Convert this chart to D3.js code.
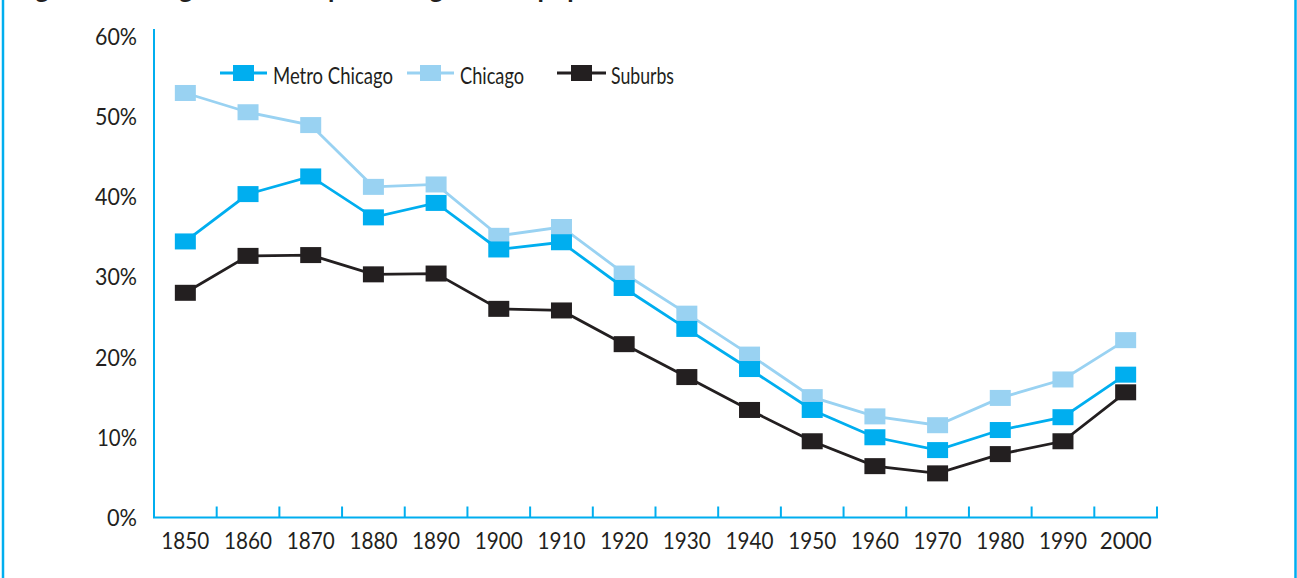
<!DOCTYPE html>
<html>
<head>
<meta charset="utf-8">
<script src="https://cdn.jsdelivr.net/npm/d3@7"></script>
<style>
  html, body { margin: 0; padding: 0; background: #fff; }
  svg { display: block; }
  text { font-family: Lato, "Open Sans", sans-serif; fill: #231F20; }
</style>
</head>
<body>
<svg id="chart" width="1297" height="578"></svg>
<script>
const years = ["1850","1860","1870","1880","1890","1900","1910","1920","1930","1940","1950","1960","1970","1980","1990","2000"];
const metroChicago = [34.4, 40.3, 42.5, 37.4, 39.2, 33.4, 34.3, 28.6, 23.5, 18.5, 13.4, 10.0, 8.4, 10.9, 12.5, 17.8];
const chicago      = [52.9, 50.5, 48.9, 41.2, 41.5, 35.1, 36.2, 30.4, 25.4, 20.3, 15.0, 12.6, 11.5, 14.9, 17.2, 22.1];
const suburbs      = [28.0, 32.6, 32.7, 30.3, 30.4, 26.0, 25.8, 21.6, 17.5, 13.4, 9.5, 6.4, 5.5, 7.9, 9.5, 15.6];
const yTicks = [0, 10, 20, 30, 40, 50, 60];
const seriesNames = ["Metro Chicago", "Chicago", "Suburbs"];
const titleText = "Figure 1. Foreign-born as a percentage of the population";

const colors = { "Metro Chicago": "#00AEEF", "Chicago": "#99D2F2", "Suburbs": "#231F20" };
const axisColor = "#00AEEF";
const fs = 24;

const svg = d3.select("#chart");

// frame lines
svg.append("line").attr("x1", 3).attr("x2", 3).attr("y1", 0).attr("y2", 578)
  .attr("stroke", axisColor).attr("stroke-width", 2.5);
svg.append("line").attr("x1", 1295.5).attr("x2", 1295.5).attr("y1", 0).attr("y2", 578)
  .attr("stroke", axisColor).attr("stroke-width", 2.5);

// clipped title (only descenders visible, as in the reference)
svg.append("text").attr("x", 14).attr("y", -2.5)
  .attr("font-size", 26).attr("font-weight", "bold").text(titleText);

const x = d3.scaleBand().domain(years).range([154, 1157]);
const y = d3.scaleLinear().domain([0, 60]).range([517.5, 36]);

// y axis line
svg.append("line").attr("x1", 154).attr("x2", 154).attr("y1", 29).attr("y2", y(0))
  .attr("stroke", axisColor).attr("stroke-width", 2);

// y labels
svg.selectAll(".ylab").data(yTicks).join("text")
  .attr("class", "ylab")
  .attr("x", 137).attr("y", d => y(d))
  .attr("dy", "0.36em")
  .attr("text-anchor", "end")
  .attr("font-size", fs)
  .attr("textLength", d => d === 0 ? 30 : (d === 10 ? 40 : 42))
  .attr("lengthAdjust", "spacingAndGlyphs")
  .text(d => d + "%");

// x axis
const xEnd = x.range()[1];
svg.append("line").attr("x1", 153).attr("x2", xEnd + 1).attr("y1", y(0)).attr("y2", y(0))
  .attr("stroke", axisColor).attr("stroke-width", 2);
const boundaries = years.slice(1).map(d => x(d)).concat([xEnd]);
svg.selectAll(".xtick").data(boundaries).join("line")
  .attr("class", "xtick")
  .attr("x1", d => d).attr("x2", d => d)
  .attr("y1", y(0)).attr("y2", y(0) - 11)
  .attr("stroke", axisColor).attr("stroke-width", 2);

svg.selectAll(".xlab").data(years).join("text")
  .attr("class", "xlab")
  .attr("x", d => x(d) + x.bandwidth() / 2)
  .attr("y", 549)
  .attr("text-anchor", "middle")
  .attr("font-size", fs)
  .attr("textLength", d => d === "2000" ? 52 : 48)
  .attr("lengthAdjust", "spacingAndGlyphs")
  .text(d => d);

// series
const seriesData = [
  { name: "Chicago", values: chicago },
  { name: "Metro Chicago", values: metroChicago },
  { name: "Suburbs", values: suburbs }
];
const cx = i => x(years[i]) + x.bandwidth() / 2;
const line = d3.line().x((d, i) => cx(i)).y(d => y(d));
const mw = 21, mh = 16;

seriesData.forEach(s => {
  const g = svg.append("g");
  g.append("path").datum(s.values)
    .attr("d", line).attr("fill", "none")
    .attr("stroke", colors[s.name]).attr("stroke-width", 2.8);
  g.selectAll("rect").data(s.values).join("rect")
    .attr("x", (d, i) => cx(i) - mw / 2)
    .attr("y", d => y(d) - mh / 2)
    .attr("width", mw).attr("height", mh)
    .attr("fill", colors[s.name]);
});

// legend
const legendItems = [
  { name: "Metro Chicago", x1: 220, x2: 267, tx: 273, tw: 120 },
  { name: "Chicago", x1: 407, x2: 454, tx: 460, tw: 64 },
  { name: "Suburbs", x1: 557, x2: 606, tx: 611, tw: 63 }
];
const ly = 73;
const lg = svg.append("g");
legendItems.forEach(it => {
  lg.append("line").attr("x1", it.x1).attr("x2", it.x2).attr("y1", ly).attr("y2", ly)
    .attr("stroke", colors[it.name]).attr("stroke-width", 2.8);
  lg.append("rect").attr("x", (it.x1 + it.x2) / 2 - mw / 2).attr("y", ly - mh / 2)
    .attr("width", mw).attr("height", mh).attr("fill", colors[it.name]);
  lg.append("text").attr("x", it.tx).attr("y", ly + 2).attr("dy", "0.36em")
    .attr("font-size", fs)
    .attr("textLength", it.tw).attr("lengthAdjust", "spacingAndGlyphs")
    .text(it.name);
});
</script>
</body>
</html>
